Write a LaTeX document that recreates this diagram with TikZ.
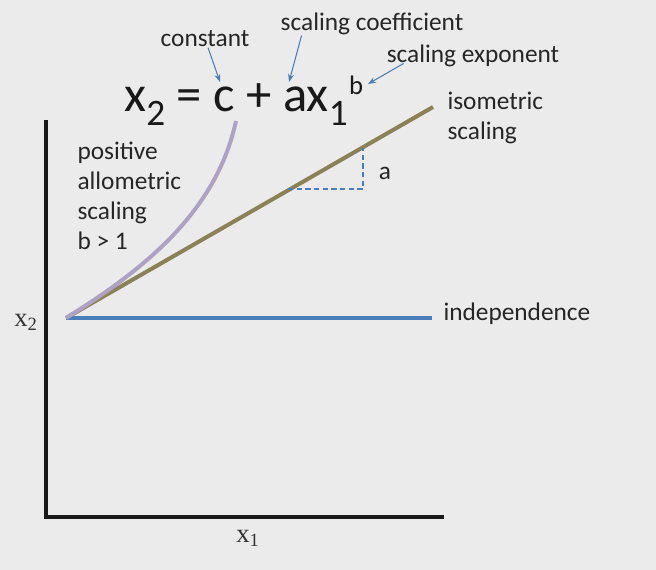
\documentclass[tikz,border=0pt]{standalone}
\usepackage{fontspec}
\setmainfont{Carlito}
\newfontfamily\axisfont{Liberation Serif}
\usetikzlibrary{arrows.meta}
\definecolor{bgcol}{HTML}{EBEBEB}
\definecolor{indepblue}{HTML}{4A7EBB}
\definecolor{isoolive}{HTML}{8A8255}
\definecolor{allolav}{HTML}{ADA2C4}
\definecolor{pointblue}{HTML}{4A7EBB}
\newcommand{\eqsub}[1]{\raisebox{-10pt}{\fontsize{28}{28}\selectfont #1}}
\newcommand{\eqsup}[1]{\raisebox{13pt}{\fontsize{20}{20}\selectfont #1}}
\tikzset{every picture/.style={line width=0.75pt}}
\tikzset{
  label text/.style={font=\fontsize{19}{22.5}\selectfont, text=black!85, inner sep=0pt, align=left},
  axis text/.style={font=\axisfont\fontsize{20}{24}\selectfont, text=black!80, inner sep=0pt},
  pointer/.style={draw=pointblue, line width=0.8pt, -{Stealth[length=6pt,width=4.5pt]}},
  trend/.style={line width=3pt},
}
\begin{document}
\begin{tikzpicture}[x=0.75pt,y=0.75pt,yscale=-1]
	%set diagram to the size of the reference
	\fill[bgcol] (0,0) rectangle (656,570);
	\useasboundingbox (0,0) rectangle (656,570);
	
	%Axes
	\coordinate (ytop) at (46,120);
	\coordinate (orig) at (46,517);
	\coordinate (xend) at (444,517);
	\draw [line width=2.4pt, black!90] (ytop) -- (orig) -- (xend) ;
	\node [axis text] (xtwo) at (26,322) {x\textsubscript{2}};
	\node [axis text] (xone) at (248,538) {x\textsubscript{1}};
	
	%Trend lines
	\coordinate (start) at (66,318);
	\coordinate (independ) at (432,318);
	\coordinate (isoend) at (433,107);
	\coordinate (alloend) at (236,121);
	\draw [trend, indepblue] (start) -- (independ) ;
	\draw [trend, isoolive] (start) -- (isoend) ;
	\draw [trend, allolav] (start) .. controls (140,272) and (216,214) .. (alloend) ;
	
	%Slope triangle
	\coordinate (runleft) at (288,189);
	\coordinate (runright) at (363,189);
	\coordinate (risetop) at (363,148);
	\draw [pointblue, line width=0.8pt, dash pattern=on 4pt off 2.5pt] (runleft) -- (runright) -- (risetop) ;
	\node [label text] (slope) at (385,173) {a};
	
	%Equation
	\node [font=\fontsize{38}{46}\selectfont, text=black!90, inner sep=0pt, anchor=base west] (equation) at (124,112) {x\eqsub{2} = c + ax\eqsub{1}\kern1pt\eqsup{b}};
	
	%Labels
	\node [label text] (constant) at (205,39) {constant};
	\node [label text] (coefficient) at (372,24) {scaling coefficient};
	\node [label text] (exponent) at (473,56) {scaling exponent};
	\node [label text, anchor=north west] (isometric) at (447,92) {isometric\\scaling};
	\node [label text, anchor=north west] (allometric) at (77,141) {positive\\allometric\\scaling\\b > 1};
	\node [label text, anchor=west] (independence) at (443,314) {independence};
	
	%Pointers
	\coordinate (cpt) at (220,82);
	\coordinate (apt) at (289,82);
	\coordinate (bpt) at (368,84);
	\draw [pointer] (constant) -- (cpt) ;
	\draw [pointer] ([xshift=16pt]coefficient.south west) -- (apt) ;
	\draw [pointer] ([xshift=13pt,yshift=-3pt]exponent.south west) -- (bpt) ;
\end{tikzpicture}
\end{document}
